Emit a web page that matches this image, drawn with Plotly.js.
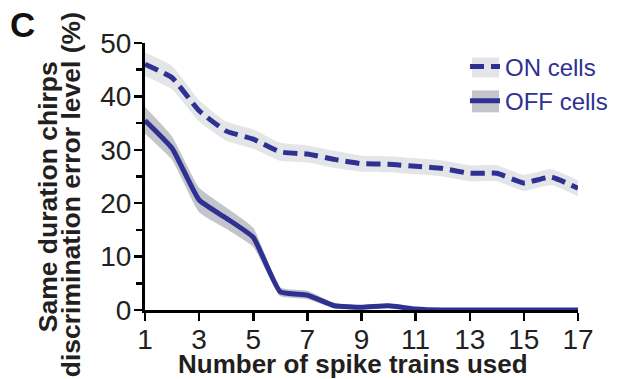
<!DOCTYPE html>
<html>
<head>
<meta charset="utf-8">
<script src="https://cdn.plot.ly/plotly-3.0.1.min.js"></script>
<style>html,body{margin:0;padding:0;background:#fff;overflow:hidden;}#chart{width:625px;height:379px;}</style>
</head>
<body>
<div id="chart"></div>
<script>
const nTrains = [1,2,3,4,5,6,7,8,9,10,11,12,13,14,15,16,17];
const onMean  = [46.0,43.5,37.3,33.5,32.0,29.6,29.2,28.2,27.4,27.3,26.9,26.5,25.6,25.6,23.8,24.9,22.8];
const onErr   = [2.2,2.2,2.0,1.8,1.8,1.7,1.6,1.6,1.5,1.5,1.5,1.5,1.5,1.5,1.5,1.5,1.5];
const offMean = [35.5,30.3,20.6,17.2,13.6,3.4,2.8,0.8,0.5,0.8,0.2,0,0,0,0,0,0];
const offErr  = [2.5,2.2,2.3,2.0,1.8,0.8,0.8,0.5,0.4,0.4,0.2,0.1,0.1,0.1,0.1,0.1,0.1];
const xTicks = [1,3,5,7,9,11,13,15,17];
const yTicks = [0,10,20,30,40,50];
const seriesNames = ['ON cells','OFF cells'];

const blue = '#2e3192';
const onBand = '#e4e5e8';
const offBand = '#c4c5ca';

function band(mean, err, color){
  const up = mean.map((v,i)=>v+err[i]);
  const lo = mean.map((v,i)=>Math.max(0,v-err[i]));
  return [
    {x:nTrains, y:lo, mode:'lines', line:{width:0, shape:'spline', smoothing:0.4}, showlegend:false, hoverinfo:'skip'},
    {x:nTrains, y:up, mode:'lines', line:{width:0, shape:'spline', smoothing:0.4}, fill:'tonexty', fillcolor:color, showlegend:false, hoverinfo:'skip'}
  ];
}

const traces = [
  ...band(onMean, onErr, onBand),
  ...band(offMean, offErr, offBand),
  {x:nTrains, y:onMean, name:seriesNames[0], mode:'lines', line:{color:blue, width:5, dash:'14px,7px', shape:'spline', smoothing:0.4}},
  {x:nTrains, y:offMean, name:seriesNames[1], mode:'lines', line:{color:blue, width:5, shape:'spline', smoothing:0.4}}
];

const W = 433, H = 267.5, L = 145, T = 42.5;
const px = v => (v - L)/W;
const py = v => (T + H - v)/H;

const layout = {
  width:625, height:379,
  margin:{l:145, r:47, t:42.5, b:69},
  paper_bgcolor:'#fff', plot_bgcolor:'#fff',
  font:{family:'Liberation Sans, Arial, sans-serif', color:'#231f20'},
  showlegend:true,
  legend:{x:px(465), y:py(44), xanchor:'left', yanchor:'top', bgcolor:'rgba(0,0,0,0)', traceorder:'normal',
          font:{size:24, color:blue}, tracegroupgap:0, itemwidth:30},
  xaxis:{range:[1,17], tickvals:xTicks, ticktext:xTicks.map(String), showgrid:false, zeroline:false,
         showline:true, linecolor:'#000', linewidth:3, ticks:'outside', ticklen:8, tickwidth:2.5, tickcolor:'#000',
         tickfont:{size:28, color:'#231f20'}, layer:'below traces', ticklabelstandoff:-6},
  yaxis:{range:[0,50], tickvals:yTicks, ticktext:yTicks.map(String), showgrid:false, zeroline:false,
         showline:true, linecolor:'#000', linewidth:3, ticks:'outside', ticklen:8, tickwidth:2.5, tickcolor:'#000',
         tickfont:{size:28, color:'#231f20'}, layer:'below traces', ticklabelstandoff:-3,
         minor:{dtick:5, tick0:0, ticks:'outside', ticklen:6, tickwidth:2.5, tickcolor:'#000', showgrid:false}},
  shapes:[
    {type:'rect', xref:'paper', yref:'paper', x0:px(472), x1:px(499), y0:py(77), y1:py(57), fillcolor:onBand, line:{width:0}, layer:'above'},
    {type:'rect', xref:'paper', yref:'paper', x0:px(472), x1:px(499), y0:py(112), y1:py(90), fillcolor:offBand, line:{width:0}, layer:'above'}
  ],
  annotations:[
    {text:'<b>C</b>', xref:'paper', yref:'paper', x:px(22), y:py(24), showarrow:false, font:{size:35, color:'#111'}, xanchor:'center', yanchor:'middle'},
    {text:'<b>Number of spike trains used</b>', xref:'paper', yref:'paper', x:px(353), y:py(364), showarrow:false, font:{size:26, color:'#231f20'}, xanchor:'center', yanchor:'middle'},
    {text:'<b>Same duration chirps</b>', xref:'paper', yref:'paper', x:px(48), y:py(197), showarrow:false, textangle:-90, font:{size:26.5, color:'#231f20'}, xanchor:'center', yanchor:'middle'},
    {text:'<b>discrimination error level (%)</b>', xref:'paper', yref:'paper', x:px(71), y:py(195), showarrow:false, textangle:-90, font:{size:26.5, color:'#231f20'}, xanchor:'center', yanchor:'middle'}
  ]
};

Plotly.newPlot('chart', traces, layout, {displayModeBar:false, staticPlot:true});
</script>
</body>
</html>
